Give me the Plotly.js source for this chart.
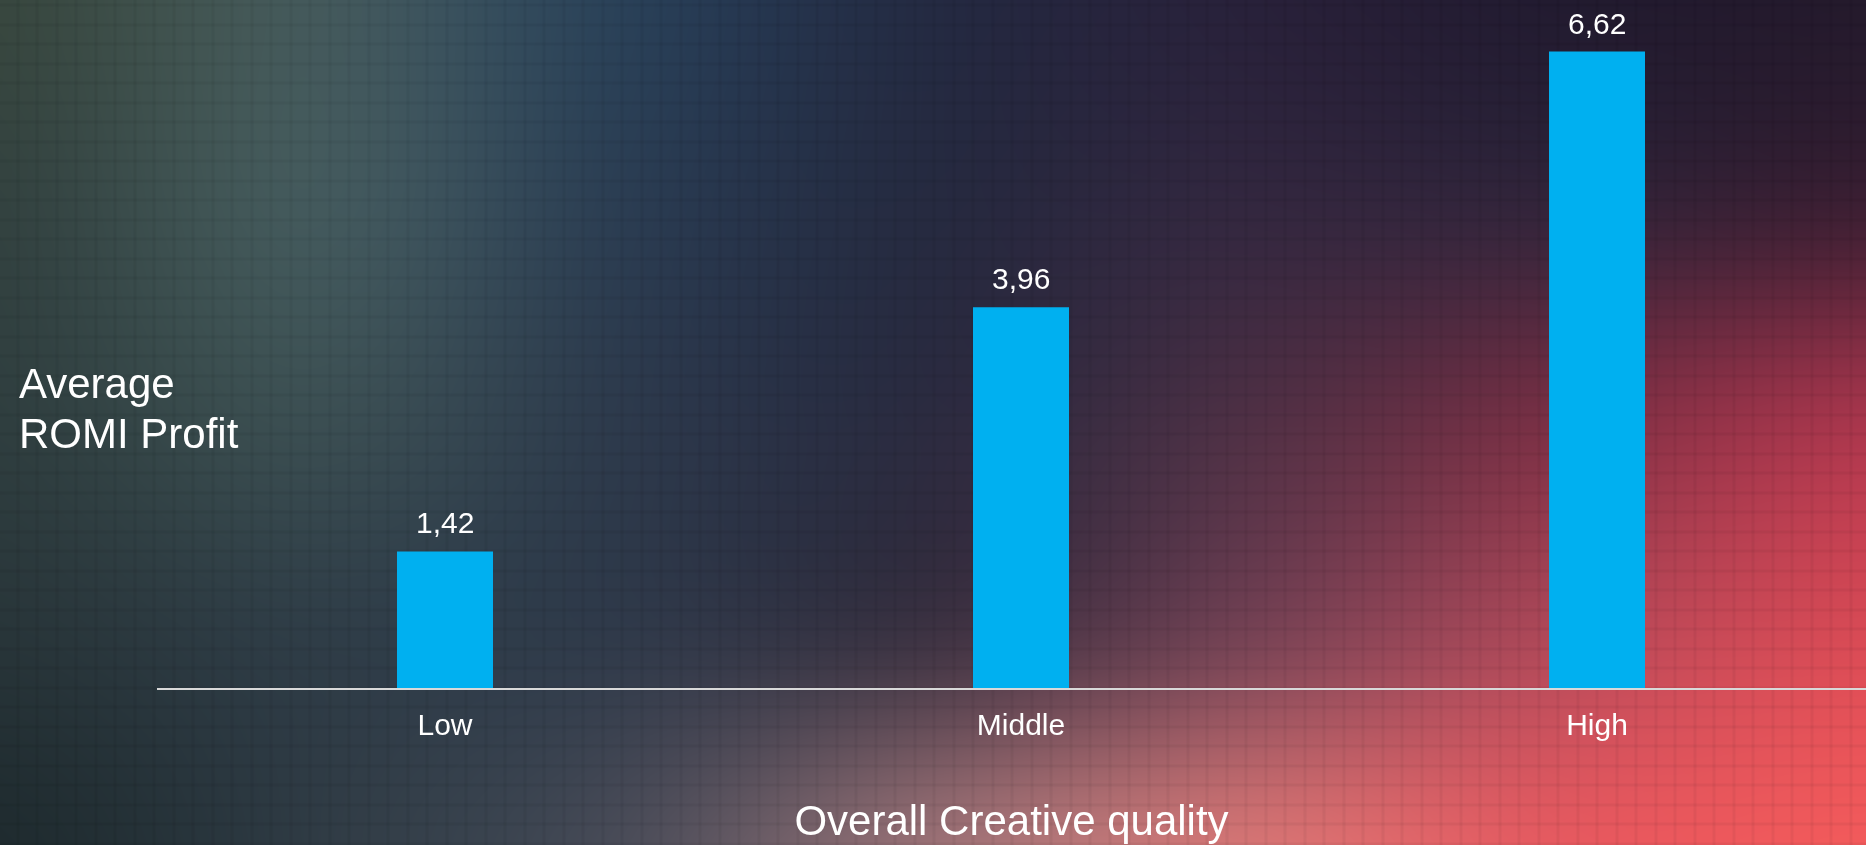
<!DOCTYPE html>
<html>
<head>
<meta charset="utf-8">
<script src="https://cdn.plot.ly/plotly-3.0.1.min.js"></script>
<style>
  html, body { margin: 0; padding: 0; overflow: hidden; background: #2a3040; }
  #wrap { position: relative; width: 1866px; height: 845px; }
  #bg { position: absolute; left: 0; top: 0; }
  #chart { position: absolute; left: 0; top: 0; width: 1866px; height: 845px; }
</style>
</head>
<body>
<div id="wrap">
  <canvas id="bg" width="1866" height="845"></canvas>
  <div id="chart"></div>
</div>
<script>
// ---------- data ----------
const categories = ['Low', 'Middle', 'High'];
const romiProfit = [1.42, 3.96, 6.62];
const xTitleText = 'Overall Creative quality';
const yTitleLines = ['Average', 'ROMI Profit'];

// ---------- background (decorative gradient + faint grid) ----------
function paintBackground() {
  const cv = document.getElementById('bg');
  const ctx = cv.getContext('2d');
  const W = cv.width, H = cv.height;
  const gx = [0, 311, 622, 933, 1244, 1555, 1866];
  const gy = [0, 211, 422, 634, 845];
  const hex = [
    ['#38473f', '#44595b', '#2a4158', '#242a42', '#28213a', '#221b30', '#241a2c'],
    ['#334240', '#43595c', '#2b3d52', '#262a40', '#33273f', '#34243a', '#3e1f33'],
    ['#2f3e3f', '#3b4e52', '#2d3a4c', '#2c2b40', '#4f3045', '#7a3045', '#a8364c'],
    ['#283539', '#2f3d47', '#303a4a', '#3e3343', '#754254', '#b04858', '#d84a55'],
    ['#1f2b2f', '#2f3b44', '#4a4c58', '#9a7075', '#d47474', '#e65a60', '#f25a5b']
  ];
  const rgb = hex.map(r => r.map(h => [1, 3, 5].map(i => parseInt(h.substr(i, 2), 16))));
  function cr(p0, p1, p2, p3, t) {
    return 0.5 * (2 * p1 + (-p0 + p2) * t + (2 * p0 - 5 * p1 + 4 * p2 - p3) * t * t + (-p0 + 3 * p1 - 3 * p2 + p3) * t * t * t);
  }
  function interp1(arrPos, vals, v) {
    const n = arrPos.length;
    let i = 0;
    while (i < n - 2 && v > arrPos[i + 1]) i++;
    const t = (v - arrPos[i]) / (arrPos[i + 1] - arrPos[i]);
    const p0 = vals[Math.max(i - 1, 0)], p1 = vals[i], p2 = vals[i + 1], p3 = vals[Math.min(i + 2, n - 1)];
    return cr(p0, p1, p2, p3, t);
  }
  const rows = rgb.map(row => {
    const out = new Float32Array(W * 3);
    for (let x = 0; x < W; x++) {
      for (let c = 0; c < 3; c++) out[x * 3 + c] = interp1(gx, row.map(p => p[c]), x);
    }
    return out;
  });
  const img = ctx.createImageData(W, H);
  const d = img.data;
  for (let y = 0; y < H; y++) {
    let i = 0;
    while (i < gy.length - 2 && y > gy[i + 1]) i++;
    const t = (y - gy[i]) / (gy[i + 1] - gy[i]);
    const r0 = rows[Math.max(i - 1, 0)], r1 = rows[i], r2 = rows[i + 1], r3 = rows[Math.min(i + 2, gy.length - 1)];
    for (let x = 0; x < W; x++) {
      const k = (y * W + x) * 4;
      for (let c = 0; c < 3; c++) {
        const j = x * 3 + c;
        const v = cr(r0[j], r1[j], r2[j], r3[j], t);
        d[k + c] = v < 0 ? 0 : v > 255 ? 255 : v;
      }
      d[k + 3] = 255;
    }
  }
  ctx.putImageData(img, 0, 0);
  // faint, soft grid texture
  const step = 19.5;
  for (let x = 16.7 - step; x < W; x += step) {
    const xi = Math.round(x);
    ctx.fillStyle = 'rgba(0,0,0,0.045)'; ctx.fillRect(xi, 0, 2, H);
    ctx.fillStyle = 'rgba(0,0,0,0.02)'; ctx.fillRect(xi - 1, 0, 1, H); ctx.fillRect(xi + 2, 0, 1, H);
  }
  for (let y = 4.3; y < H; y += step) {
    const yi = Math.round(y);
    ctx.fillStyle = 'rgba(0,0,0,0.045)'; ctx.fillRect(0, yi, W, 2);
    ctx.fillStyle = 'rgba(0,0,0,0.02)'; ctx.fillRect(0, yi - 1, W, 1); ctx.fillRect(0, yi + 2, W, 1);
  }
}
paintBackground();

// ---------- chart ----------
const fontFamily = '"Liberation Sans", Arial, Helvetica, sans-serif';
const fmt = v => v.toFixed(2).replace('.', ',');
const plotTop = 15, plotH = 673, plotLeft = 157, plotW = 1709;
const pyToPaper = py => (plotTop + plotH - py) / plotH;

const trace = {
  type: 'bar',
  x: categories,
  y: romiProfit,
  marker: { color: '#00b0f0', line: { width: 0 } },
  hoverinfo: 'skip'
};

const annotations = categories.map((c, i) => ({
  x: c, y: romiProfit[i], xref: 'x', yref: 'y',
  text: fmt(romiProfit[i]),
  showarrow: false, yanchor: 'bottom', xanchor: 'center', yshift: 10,
  font: { family: fontFamily, size: 30, color: '#ffffff' }
}));
const yTitleCenters = [383, 433];
yTitleLines.forEach((line, i) => {
  annotations.push({
    xref: 'paper', yref: 'paper',
    x: (17 - plotLeft) / plotW, y: pyToPaper(yTitleCenters[i]),
    xanchor: 'left', yanchor: 'middle', align: 'left',
    text: line,
    showarrow: false,
    font: { family: fontFamily, size: 42, color: '#ffffff' }
  });
});

const layout = {
  width: 1866, height: 845,
  margin: { l: plotLeft, r: 0, t: plotTop, b: 845 - plotTop - plotH, pad: 0 },
  paper_bgcolor: 'rgba(0,0,0,0)',
  plot_bgcolor: 'rgba(0,0,0,0)',
  font: { family: fontFamily, color: '#ffffff' },
  bargap: 1 - 96 / 576,
  showlegend: false,
  xaxis: {
    type: 'category',
    range: [-0.5, -0.5 + plotW / 576],
    showline: true, linecolor: '#d9d9d9', linewidth: 2,
    showgrid: false, zeroline: false, ticks: '',
    tickfont: { family: fontFamily, size: 30, color: '#ffffff' },
    ticklabelstandoff: 9,
    title: { text: xTitleText, font: { family: fontFamily, size: 42, color: '#ffffff' }, standoff: 66 },
    automargin: false, fixedrange: true
  },
  yaxis: {
    range: [0, 7], visible: false, showgrid: false, zeroline: false, fixedrange: true
  },
  annotations: annotations
};

Plotly.newPlot('chart', [trace], layout, { staticPlot: true, displayModeBar: false });
</script>
</body>
</html>
